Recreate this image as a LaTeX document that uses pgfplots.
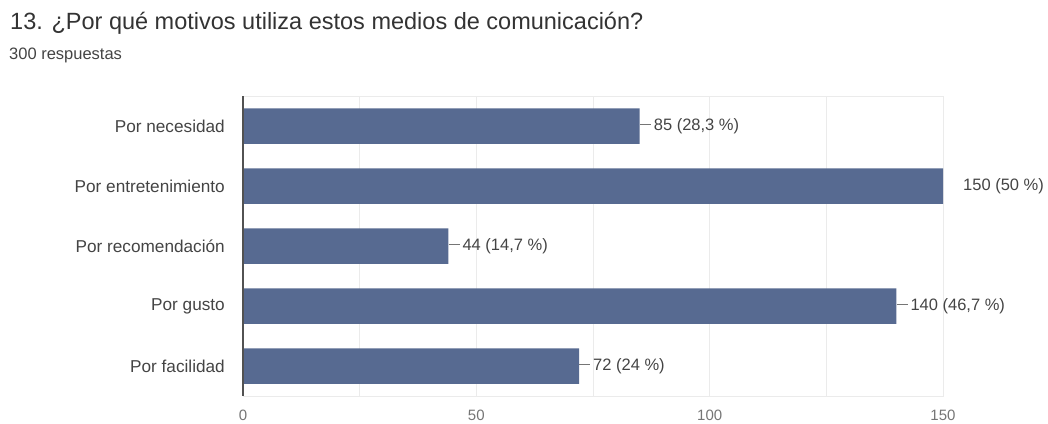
\documentclass[border=0pt]{standalone}
\usepackage{pgfplots}
\pgfplotsset{compat=1.18}
\usepackage{fontspec}
\setmainfont{Liberation Sans}
\definecolor{barc}{HTML}{576A91}
\definecolor{txt}{HTML}{333333}
\definecolor{lbl}{HTML}{444444}
\definecolor{tickc}{HTML}{757575}
\definecolor{gridc}{HTML}{EBEBEB}
\newcommand{\lead}{\textcolor{tickc}{\rule[0.32em]{11pt}{0.7pt}}\hspace{3pt}}
\begin{document}
\begin{tikzpicture}[x=1pt,y=1pt]
\path[use as bounding box] (0,0) rectangle (1048,423);
\node[anchor=base west, inner sep=0, font=\fontsize{23.5}{25}\selectfont, text=txt] at (10,393) {13. ¿Por qué motivos utiliza estos medios de comunicación?};
\node[anchor=base west, inner sep=0, font=\fontsize{16.5}{18}\selectfont, text=lbl] at (9,363) {300 respuestas};
\begin{axis}[
 at={(243pt,27pt)}, anchor=south west,
 width=700pt, height=300pt, scale only axis,
 xmin=0, xmax=150, ymin=-0.5, ymax=4.5,
 y dir=reverse,
 ytick={0,...,4},
 yticklabels={Por necesidad, Por entretenimiento, Por recomendación, Por gusto, Por facilidad},
 xtick={0,50,100,150},
 minor xtick={25,75,125},
 xmajorgrids, xminorgrids,
 grid style={gridc, line width=0.8pt},
 major tick length=0pt, minor tick length=0pt,
 axis line style={gridc},
 tick style={draw=none},
 /pgf/number format/assume math mode=true,
 xticklabel style={font=\fontsize{15}{15}\selectfont, text=tickc, anchor=north, inner sep=0pt, yshift=-14pt},
 yticklabel style={font=\fontsize{17.2}{18}\selectfont, text=lbl, anchor=east, inner sep=0pt, xshift=-18pt},
 xbar, bar width=35.5pt,
 nodes near coords, point meta=explicit symbolic,
 every node near coord/.append style={font=\fontsize{16.5}{18}\selectfont, text=lbl, anchor=west, inner sep=0pt},
 clip=false,
]
\addplot[fill=barc, draw=none] coordinates {
 (85,0) [\lead 85 (28,3 \%)]
 (150,1) [\hspace{20pt}150 (50 \%)]
 (44,2) [\lead 44 (14,7 \%)]
 (140,3) [\lead 140 (46,7 \%)]
 (72,4) [\lead 72 (24 \%)]
};
\draw[tickc!70!black, line width=1.3pt] (axis cs:0,-0.5) -- (axis cs:0,4.5);
\end{axis}
\end{tikzpicture}
\end{document}
